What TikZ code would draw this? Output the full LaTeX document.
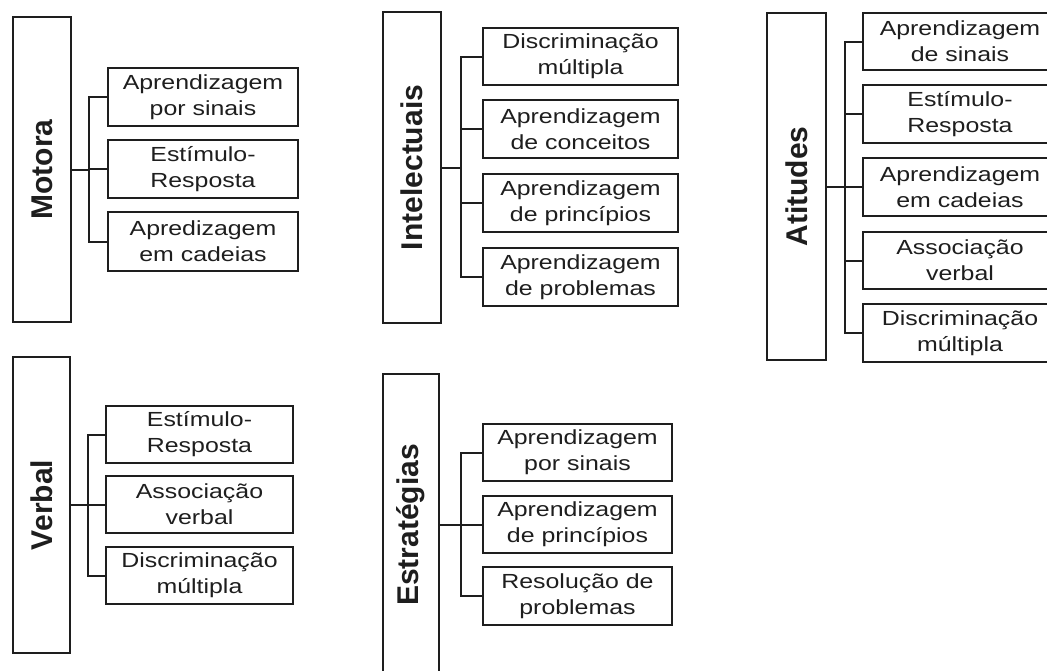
\documentclass[tikz,border=0pt]{standalone}
\usepackage{fontspec}
\setmainfont[FakeStretch=1.22]{Liberation Sans}
\newfontfamily\labelfont{Liberation Sans}
\definecolor{ink}{RGB}{30,30,30}
\tikzset{
  catbox/.style={draw=ink, line width=2.1pt, fill=white, inner sep=0pt},
  catlabel/.style={rotate=90, inner sep=0pt, text=ink, font=\labelfont\bfseries\fontsize{30}{36}\selectfont},
  itembox/.style={draw=ink, line width=2.1pt, fill=white, inner sep=0pt, align=center, text=ink,
    font=\fontsize{20.4}{26}\selectfont},
  link/.style={draw=ink, line width=2pt}
}
\newcommand{\cbox}[5]{% name, x1, y1, x2, y2
  \node[catbox, minimum width={#4-#2}, minimum height={#5-#3}] (#1) at ({(#2+#4)/2},{(#3+#5)/2}) {};}
\newcommand{\ibox}[6]{% name, x1, y1, x2, y2, text
  \node[itembox, minimum width={#4-#2}, minimum height={#5-#3}] (#1) at ({(#2+#4)/2},{(#3+#5)/2}) {#6};}
\begin{document}
\begin{tikzpicture}[x=1pt,y=-1pt]
\useasboundingbox (0,0) rectangle (1047,670);
\clip (0,0) rectangle (1047,670);

% ---------- Motora ----------
\cbox{mot}{13}{17}{71}{322}
\node[catlabel] (motl) at (mot.center) {Motora};
\ibox{mot1}{108}{68}{298}{126}{Aprendizagem\\por sinais}
\ibox{mot2}{108}{140}{298}{198}{Estímulo-\\Resposta}
\ibox{mot3}{108}{212}{298}{271}{Apredizagem\\em cadeias}
\coordinate (motv) at (89,0);
\draw[link] (mot.east) -- (mot.east -| motv);
\draw[link] (mot1.west) -- (mot1.west -| motv) -- (mot3.west -| motv) -- (mot3.west);
\draw[link] (mot2.west) -- (mot2.west -| motv);

% ---------- Intelectuais ----------
\cbox{int}{383}{12}{441}{323}
\node[catlabel] (intl) at (int.center) {Intelectuais};
\ibox{int1}{483}{28}{678}{85}{Discriminação\\múltipla}
\ibox{int2}{483}{100}{678}{158}{Aprendizagem\\de conceitos}
\ibox{int3}{483}{174}{678}{232}{Aprendizagem\\de princípios}
\ibox{int4}{483}{248}{678}{306}{Aprendizagem\\de problemas}
\coordinate (intv) at (461,0);
\draw[link] (int.east) -- (int.east -| intv);
\draw[link] (int1.west) -- (int1.west -| intv) -- (int4.west -| intv) -- (int4.west);
\draw[link] (int2.west) -- (int2.west -| intv);
\draw[link] (int3.west) -- (int3.west -| intv);

% ---------- Atitudes ----------
\cbox{ati}{767}{13}{826}{360}
\node[catlabel] (atil) at (ati.center) {Atitudes};
\ibox{ati1}{863}{13}{1057}{70}{Aprendizagem\\de sinais}
\ibox{ati2}{863}{85}{1057}{143}{Estímulo-\\Resposta}
\ibox{ati3}{863}{158}{1057}{216}{Aprendizagem\\em cadeias}
\ibox{ati4}{863}{232}{1057}{289}{Associação\\verbal}
\ibox{ati5}{863}{304}{1057}{362}{Discriminação\\múltipla}
\coordinate (ativ) at (845,0);
\draw[link] (ati.east) -- (ati.east -| ativ);
\draw[link] (ati1.west) -- (ati1.west -| ativ) -- (ati5.west -| ativ) -- (ati5.west);
\draw[link] (ati2.west) -- (ati2.west -| ativ);
\draw[link] (ati3.west) -- (ati3.west -| ativ);
\draw[link] (ati4.west) -- (ati4.west -| ativ);

% ---------- Verbal ----------
\cbox{ver}{13}{357}{70}{653}
\node[catlabel] (verl) at (ver.center) {Verbal};
\ibox{ver1}{106}{406}{293}{463}{Estímulo-\\Resposta}
\ibox{ver2}{106}{476}{293}{533}{Associação\\verbal}
\ibox{ver3}{106}{547}{293}{604}{Discriminação\\múltipla}
\coordinate (verv) at (88,0);
\draw[link] (ver.east) -- (ver.east -| verv);
\draw[link] (ver1.west) -- (ver1.west -| verv) -- (ver3.west -| verv) -- (ver3.west);
\draw[link] (ver2.west) -- (ver2.west -| verv);

% ---------- Estratégias ----------
\cbox{est}{383}{374}{439}{676}
\node[catlabel] (estl) at (est.center) {Estratégias};
\ibox{est1}{483}{424}{672}{481}{Aprendizagem\\por sinais}
\ibox{est2}{483}{496}{672}{553}{Aprendizagem\\de princípios}
\ibox{est3}{483}{567}{672}{625}{Resolução de\\problemas}
\coordinate (estv) at (461,0);
\draw[link] (est.east) -- (est.east -| estv);
\draw[link] (est1.west) -- (est1.west -| estv) -- (est3.west -| estv) -- (est3.west);
\draw[link] (est2.west) -- (est2.west -| estv);
\end{tikzpicture}
\end{document}
